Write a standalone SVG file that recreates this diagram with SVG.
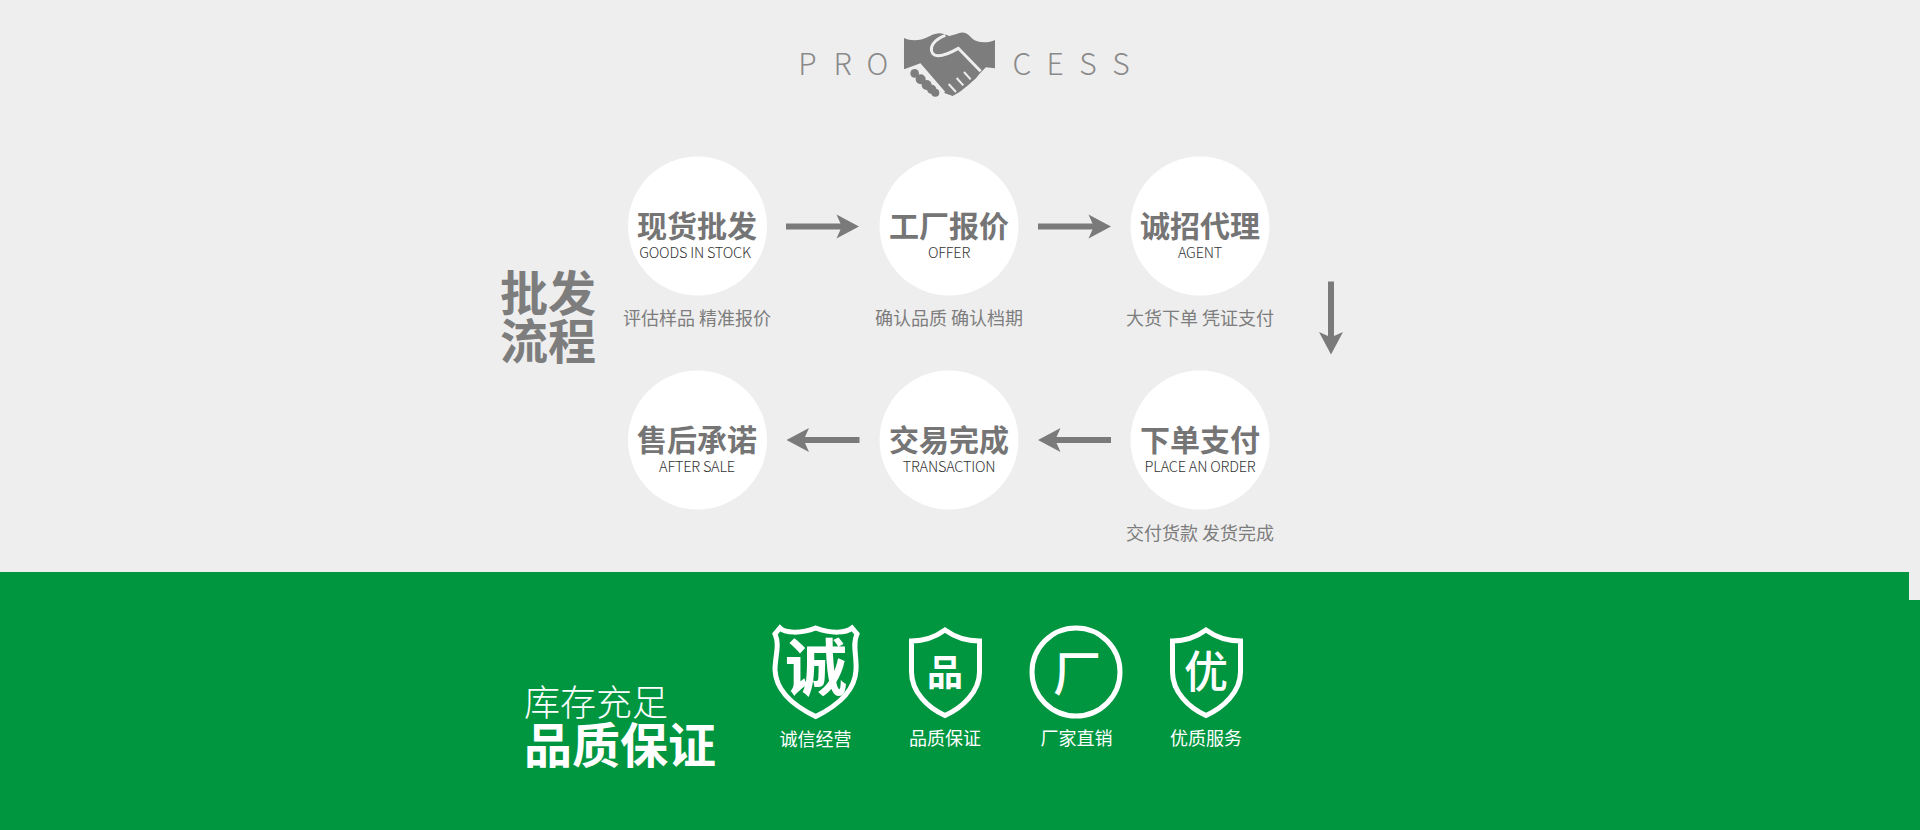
<svg xmlns="http://www.w3.org/2000/svg" width="1920" height="830" viewBox="0 0 1920 830">
<style>
text{font-family:"Noto Sans CJK SC","Noto Sans",sans-serif;text-anchor:middle}
.c{fill:#fff}
.h{font-size:30px;font-weight:700;fill:#757575}
.e{font-size:14.500px;font-weight:300;fill:#333;letter-spacing:-.2px}
.d{font-size:18px;fill:#7d7d7d;font-weight:400}
.t{font-size:48px;font-weight:700;fill:#7d7d7d}
.l{font-size:30px;font-weight:300;fill:#8a8a8a}
.s{fill:none;stroke:#fff;stroke-width:5}
.lab{font-size:18px;fill:#fff}
.a{fill:#7a7a7a}
</style>
<defs>
<path id="arr" class="a" d="M-36.500-3H18L14-12L36.500 0L14 12L18 3H-36.500Z"/>
</defs>
<rect width="1920" height="830" fill="#eee"/>
<path d="M0 572H1909V600H1920V830H0Z" fill="#009640"/>
<g id="title">
<text class="l" x="807.500" y="75">P</text><text class="l" x="842.500" y="75">R</text><text class="l" x="877.500" y="75">O</text>
<text class="l" x="1022" y="75">C</text><text class="l" x="1055" y="75">E</text><text class="l" x="1088" y="75">S</text><text class="l" x="1121" y="75">S</text>
<g transform="translate(760 10) scale(.3333)">
<path d="M432 84C455 95 485 92 510 78C525 70 540 68 552 72L568 78L590 72C605 64 620 66 635 84C650 100 685 100 705 90V175L678 172L660 190L648 205L625 225L600 245L578 258L555 250L520 215L480 170L432 178Z" fill="#7d7d7d"/>
<path d="M556 76C525 88 505 110 518 130C530 145 560 135 595 115L662 184" fill="none" stroke="#eee" stroke-width="9"/>
<path d="M432 183L480 165L552 248" fill="none" stroke="#eee" stroke-width="9"/>
<g fill="#7d7d7d"><circle cx="464" cy="190" r="13"/><circle cx="482" cy="208" r="15"/><circle cx="500" cy="225" r="15"/><circle cx="515" cy="238" r="14"/><circle cx="526" cy="248" r="12"/></g>
<path d="M566 222L588 246M590 204L610 226M612 186L632 208" stroke="#eee" stroke-width="6"/>
</g>
</g>
<g id="side-title"><text class="t" x="548" y="311">批发</text><text class="t" x="548" y="359">流程</text></g>
<g id="node-1"><circle class="c" cx="697.500" cy="226" r="69.500"/><text class="h" x="697" y="237">现货批发</text><text class="e" x="695" y="258">GOODS IN STOCK</text><text class="d" x="697" y="325">评估样品 精准报价</text></g>
<g id="node-2"><circle class="c" cx="949" cy="226" r="69.500"/><text class="h" x="949" y="237">工厂报价</text><text class="e" x="949" y="258">OFFER</text><text class="d" x="949" y="325">确认品质 确认档期</text></g>
<g id="node-3"><circle class="c" cx="1200" cy="226" r="69.500"/><text class="h" x="1200" y="237">诚招代理</text><text class="e" x="1200" y="258">AGENT</text><text class="d" x="1200" y="325">大货下单 凭证支付</text></g>
<g id="node-4"><circle class="c" cx="1200" cy="440" r="69.500"/><text class="h" x="1200" y="451">下单支付</text><text class="e" x="1200" y="472">PLACE AN ORDER</text><text class="d" x="1200" y="540">交付货款 发货完成</text></g>
<g id="node-5"><circle class="c" cx="949" cy="440" r="69.500"/><text class="h" x="949" y="451">交易完成</text><text class="e" x="949" y="472">TRANSACTION</text></g>
<g id="node-6"><circle class="c" cx="697.500" cy="440" r="69.500"/><text class="h" x="697" y="451">售后承诺</text><text class="e" x="697" y="472">AFTER SALE</text></g>
<g id="connectors">
<use href="#arr" transform="translate(822.500 226.500)"/>
<use href="#arr" transform="translate(1074.500 226.500)"/>
<use href="#arr" transform="translate(1331 318) rotate(90)"/>
<use href="#arr" transform="translate(1074.500 440) rotate(180)"/>
<use href="#arr" transform="translate(823 440) rotate(180)"/>
</g>
<g id="slogan"><text x="596" y="716" style="font-size:36px;font-weight:300;fill:#fff">库存充足</text><text x="620" y="763" style="font-size:48px;font-weight:700;fill:#fff">品质保证</text></g>
<g id="badge-1">
<path class="s" d="M815.700 628C832 634 846 633 852 628L857 634C852 645 857 656 856 670C855 693 833 708 815.700 716.500C798 708 776 693 775 670C775 656 780 645 775 634L780 628C785 633 800 634 815.700 628Z"/>
<text x="816" y="691" style="font-size:62px;font-weight:700;fill:#fff">诚</text>
<text class="lab" x="815.500" y="746">诚信经营</text>
</g>
<g id="badge-2">
<path class="s" d="M945 630C956 638 968 641 979.500 641V672C979.500 692 962 708 945 715.500C928 708 911.500 692 911.500 672V641C922 641 934 638 945 630Z"/>
<text x="945" y="686" style="font-size:36px;font-weight:700;fill:#fff">品</text>
<text class="lab" x="945" y="745">品质保证</text>
</g>
<g id="badge-3">
<circle class="s" cx="1076" cy="672" r="44"/>
<text x="1077" y="691" style="font-size:48px;font-weight:500;fill:#fff">厂</text>
<text class="lab" x="1076.500" y="745">厂家直销</text>
</g>
<g id="badge-4">
<path class="s" d="M1206 630C1217 638 1229 641 1240.500 641V672C1240.500 692 1223 708 1206 715.500C1189 708 1172.500 692 1172.500 672V641C1183 641 1195 638 1206 630Z"/>
<text x="1206" y="688" style="font-size:44px;font-weight:500;fill:#fff">优</text>
<text class="lab" x="1206" y="745">优质服务</text>
</g>
</svg>
